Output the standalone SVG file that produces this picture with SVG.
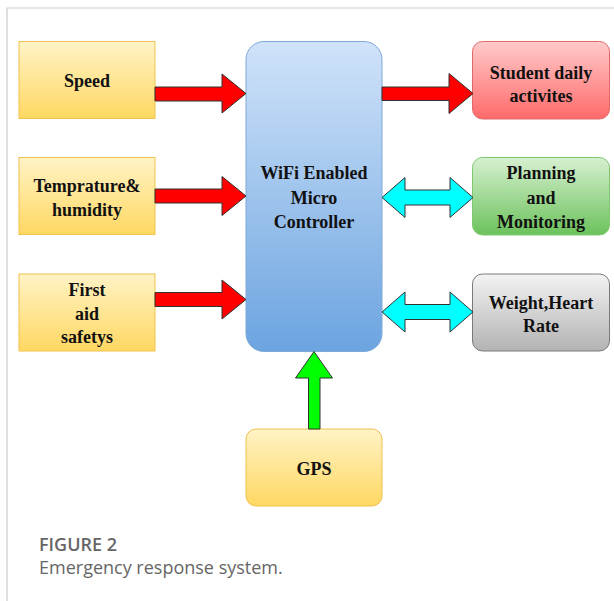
<svg xmlns="http://www.w3.org/2000/svg" width="614" height="601" viewBox="0 0 614 601">
<defs>
<linearGradient id="gY" x1="0" y1="0" x2="0" y2="1"><stop offset="0" stop-color="#fff3c6"/><stop offset="1" stop-color="#ffd862"/></linearGradient>
<linearGradient id="gB" x1="0" y1="0" x2="0" y2="1"><stop offset="0" stop-color="#d0e3f9"/><stop offset="1" stop-color="#6ca4e0"/></linearGradient>
<linearGradient id="gR" x1="0" y1="0" x2="0" y2="1"><stop offset="0" stop-color="#ffcaca"/><stop offset="1" stop-color="#ff6a6a"/></linearGradient>
<linearGradient id="gG" x1="0" y1="0" x2="0" y2="1"><stop offset="0" stop-color="#d6f0d0"/><stop offset="1" stop-color="#6cc25c"/></linearGradient>
<linearGradient id="gK" x1="0" y1="0" x2="0" y2="1"><stop offset="0" stop-color="#f3f3f3"/><stop offset="1" stop-color="#b3b3b3"/></linearGradient>
</defs>
<style>
.t{font-family:'Liberation Serif',serif;font-weight:700;font-size:18px;fill:#111;text-anchor:middle}
.y{fill:url(#gY);stroke:#f0c24f;stroke-width:1}
.b{fill:url(#gB);stroke:#7fa9d8;stroke-width:1}
.r{fill:url(#gR);stroke:#e06a6a;stroke-width:1}
.g{fill:url(#gG);stroke:#7fc870;stroke-width:1}
.k{fill:url(#gK);stroke:#7a7a7a;stroke-width:1}
.ar{stroke:#333;stroke-width:1;stroke-linejoin:miter}
.cap{font-family:'Open Sans','Liberation Sans',sans-serif;font-size:18px;fill:#666}
</style>
<path d="M7,601 V8 H614" fill="none" stroke="#cccccc" stroke-width="1.2"/>
<g id="speed"><rect class="y" x="19" y="41.5" width="136" height="77"/><text class="t" x="87" y="87">Speed</text></g>
<g id="temp"><rect class="y" x="19" y="157.5" width="136" height="77"/><text class="t" x="87" y="192">Temprature&amp;</text><text class="t" x="87" y="216">humidity</text></g>
<g id="firstaid"><rect class="y" x="19" y="274" width="136" height="77"/><text class="t" x="87" y="296">First</text><text class="t" x="87" y="319.5">aid</text><text class="t" x="87" y="343">safetys</text></g>
<g id="controller"><rect class="b" x="246" y="41.5" width="136" height="310" rx="18"/><text class="t" x="314" y="179">WiFi Enabled</text><text class="t" x="314" y="203.5">Micro</text><text class="t" x="314" y="228">Controller</text></g>
<g id="student"><rect class="r" x="472.5" y="41.5" width="137" height="77.5" rx="10"/><text class="t" x="541" y="78.5">Student daily</text><text class="t" x="541" y="102">activites</text></g>
<g id="planning"><rect class="g" x="472.5" y="157.5" width="137" height="77.5" rx="10"/><text class="t" x="541" y="179">Planning</text><text class="t" x="541" y="203.5">and</text><text class="t" x="541" y="228">Monitoring</text></g>
<g id="weight"><rect class="k" x="472.5" y="274" width="137" height="77" rx="10"/><text class="t" x="541" y="308.5">Weight,Heart</text><text class="t" x="541" y="332">Rate</text></g>
<g id="gps"><rect class="y" x="246" y="429" width="136" height="77" rx="10"/><text class="t" x="314" y="475">GPS</text></g>
<g id="connectors">
<polygon class="ar" fill="#ff0000" points="155,87 222,87 222,74 246,93.5 222,113 222,101 155,101"/>
<polygon class="ar" fill="#ff0000" points="155,189 222,189 222,176.5 246,196 222,215.5 222,203 155,203"/>
<polygon class="ar" fill="#ff0000" points="155,292.5 222,292.5 222,280 246,299.5 222,319 222,306.5 155,306.5"/>
<polygon class="ar" fill="#ff0000" points="382,87 449,87 449,73.5 473,93.5 449,113.5 449,100.5 382,100.5"/>
<polygon class="ar" fill="#00ffff" points="382,197.5 405,177.5 405,190 450,190 450,177.5 473,197.5 450,217.5 450,205 405,205 405,217.5"/>
<polygon class="ar" fill="#00ffff" points="382,312 405,292 405,304.5 450,304.5 450,292 473,312 450,332 450,319.5 405,319.5 405,332"/>
<polygon class="ar" fill="#00ff00" points="314,351.5 332.5,378 320,378 320,429 308.5,429 308.5,378 295.5,378"/>
</g>
<text class="cap" x="39" y="551" style="font-weight:600">FIGURE 2</text>
<text class="cap" x="39" y="574">Emergency response system.</text>
</svg>
